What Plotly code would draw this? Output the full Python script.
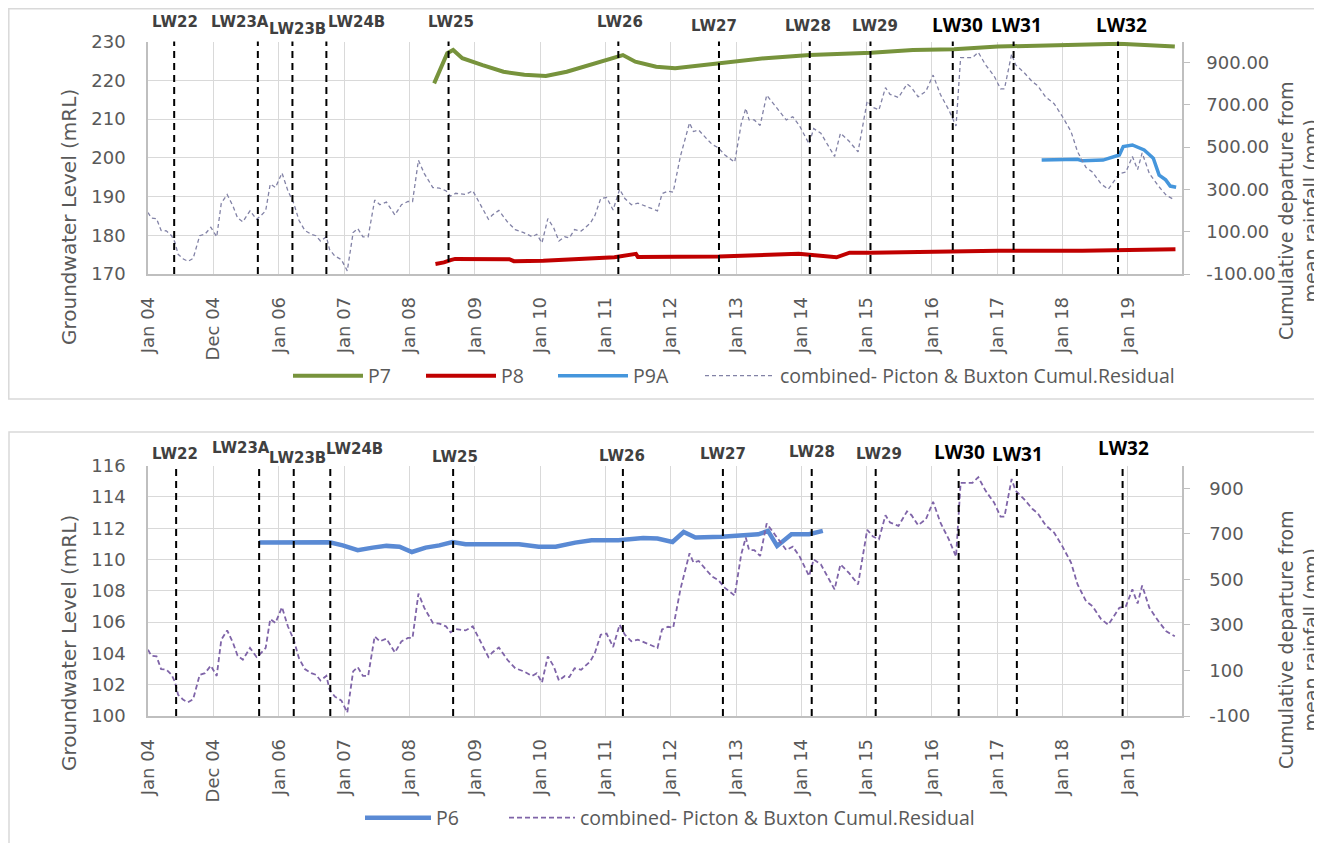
import plotly.graph_objects as go
from datetime import datetime

# the page adds an 8px body margin, so the figure is drawn 8px right/down of the window origin
OFF = 8
W, H = 1322 - OFF, 843 - OFF

# ---------------- data (decimal years / values) ----------------
tick_labels = ["Jan 04", "Dec 04", "Jan 06", "Jan 07", "Jan 08", "Jan 09", "Jan 10", "Jan 11",
               "Jan 12", "Jan 13", "Jan 14", "Jan 15", "Jan 16", "Jan 17", "Jan 18", "Jan 19"]
tick_years = [2004 + i for i in range(16)]

lw_names = ["LW22", "LW23A", "LW23B", "LW24B", "LW25", "LW26", "LW27", "LW28", "LW29", "LW30", "LW31", "LW32"]
lw_dates_top = [2004.40, 2005.68, 2006.21, 2006.73, 2008.60, 2011.20, 2012.74, 2014.13, 2015.06, 2016.32, 2017.25, 2018.85]
lw_dates_bottom = [2004.43, 2005.70, 2006.23, 2006.79, 2008.67, 2011.27, 2012.80, 2014.16, 2015.14, 2016.41, 2017.30, 2018.92]

rain_t = [2004.00, 2004.05, 2004.13, 2004.20, 2004.28, 2004.36, 2004.41, 2004.46, 2004.54, 2004.61,
          2004.69, 2004.79, 2004.87, 2004.96, 2005.05, 2005.12, 2005.21, 2005.30, 2005.37, 2005.45,
          2005.56, 2005.66, 2005.72, 2005.80, 2005.87, 2005.95, 2006.05, 2006.14, 2006.23, 2006.31,
          2006.40, 2006.50, 2006.57, 2006.64, 2006.73, 2006.78, 2006.86, 2006.96, 2007.05, 2007.14,
          2007.21, 2007.29, 2007.37, 2007.47, 2007.55, 2007.65, 2007.78, 2007.88, 2007.98, 2008.05,
          2008.14, 2008.23, 2008.36, 2008.46, 2008.56, 2008.63, 2008.71, 2008.86, 2008.97, 2009.09,
          2009.21, 2009.27, 2009.37, 2009.50, 2009.62, 2009.75, 2009.88, 2009.95, 2010.03, 2010.12,
          2010.21, 2010.29, 2010.38, 2010.45, 2010.53, 2010.63, 2010.77, 2010.84, 2010.93, 2011.02,
          2011.12, 2011.22, 2011.30, 2011.40, 2011.50, 2011.80, 2011.87, 2011.96, 2012.04, 2012.15,
          2012.29, 2012.35, 2012.43, 2012.56, 2012.64, 2012.73, 2012.83, 2012.98, 2013.08, 2013.15,
          2013.20, 2013.28, 2013.37, 2013.47, 2013.54, 2013.67, 2013.77, 2013.87, 2013.97, 2014.12,
          2014.19, 2014.30, 2014.40, 2014.51, 2014.60, 2014.73, 2014.87, 2015.01, 2015.10, 2015.19,
          2015.29, 2015.36, 2015.49, 2015.62, 2015.69, 2015.79, 2015.91, 2016.02, 2016.13, 2016.26,
          2016.37, 2016.44, 2016.62, 2016.71, 2016.82, 2016.95, 2017.05, 2017.11, 2017.22, 2017.28,
          2017.41, 2017.54, 2017.62, 2017.74, 2017.87, 2018.00, 2018.13, 2018.23, 2018.36, 2018.46,
          2018.59, 2018.70, 2018.77, 2018.87, 2018.97, 2019.07, 2019.15, 2019.22, 2019.33, 2019.47,
          2019.59, 2019.72]
rain_v = [191, 165, 162, 106, 104, 81, 51, -7, -29, -40,
          -26, 81, 88, 121, 76, 235, 276, 221, 165, 147,
          199, 159, 174, 199, 326, 309, 378, 294, 235, 154,
          106, 88, 81, 56, 76, 15, -15, -32, -85, 96,
          115, 76, 76, 250, 228, 240, 179, 228, 243, 243,
          438, 375, 309, 306, 294, 268, 282, 276, 294, 228,
          159, 179, 201, 147, 110, 96, 76, 88, 47, 162,
          118, 56, 76, 71, 110, 103, 140, 176, 257, 262,
          203, 301, 257, 228, 235, 199, 280, 292, 287, 456,
          615, 574, 581, 537, 512, 497, 463, 429, 610, 684,
          629, 629, 603, 746, 718, 669, 629, 644, 603, 515,
          588, 566, 515, 456, 566, 529, 478, 718, 688, 676,
          782, 750, 735, 799, 782, 738, 765, 841, 750, 676,
          600, 924, 924, 949, 890, 838, 776, 776, 941, 890,
          853, 809, 791, 738, 706, 644, 574, 478, 404, 382,
          326, 301, 331, 375, 382, 456, 394, 473, 375, 316,
          272, 250]

p7_t = [2008.38, 2008.53, 2008.58, 2008.67, 2008.81, 2009.12, 2009.44, 2009.76, 2010.09, 2010.41,
        2010.75, 2011.01, 2011.27, 2011.46, 2011.78, 2012.07, 2012.74, 2013.45, 2014.13, 2015.07,
        2015.71, 2016.34, 2017.01, 2017.97, 2018.87, 2019.72]
p7_v = [219.2, 225.5, 227.0, 227.8, 225.7, 223.9, 222.2, 221.4, 221.1, 222.2,
        223.9, 225.2, 226.5, 224.8, 223.5, 223.1, 224.4, 225.7, 226.5, 227.1,
        227.8, 228.0, 228.7, 229.1, 229.4, 228.7]

p8_t = [2008.40, 2008.53, 2008.63, 2008.70, 2009.53, 2009.60, 2010.05, 2010.69, 2011.14, 2011.47,
        2011.50, 2012.74, 2013.96, 2014.54, 2014.74, 2015.07, 2016.37, 2017.01, 2018.30, 2019.73]
p8_v = [172.6, 173.0, 173.6, 173.9, 173.8, 173.3, 173.4, 174.0, 174.3, 175.2,
        174.4, 174.5, 175.2, 174.3, 175.5, 175.5, 175.8, 176.0, 176.0, 176.4]

p9a_t = [2017.68, 2018.23, 2018.30, 2018.62, 2018.87, 2018.93, 2019.07, 2019.25, 2019.39, 2019.48,
         2019.58, 2019.65, 2019.74]
p9a_v = [199.4, 199.6, 199.2, 199.4, 200.7, 202.9, 203.3, 202.0, 199.9, 195.5,
         194.3, 192.7, 192.4]

p6_t = [2005.70, 2006.78, 2006.98, 2007.21, 2007.44, 2007.65, 2007.85, 2008.04, 2008.25, 2008.46,
        2008.66, 2008.86, 2009.17, 2009.68, 2009.98, 2010.24, 2010.54, 2010.79, 2011.20, 2011.58,
        2011.80, 2012.03, 2012.20, 2012.38, 2012.78, 2013.14, 2013.34, 2013.49, 2013.63, 2013.85,
        2014.12, 2014.33]
p6_v = [111.08, 111.10, 110.90, 110.60, 110.76, 110.87, 110.82, 110.48, 110.76, 110.90,
        111.12, 110.97, 110.97, 110.97, 110.82, 110.82, 111.08, 111.23, 111.23, 111.38,
        111.34, 111.12, 111.76, 111.40, 111.46, 111.55, 111.61, 111.83, 110.87, 111.61,
        111.61, 111.83]

right_ticks = [-100, 100, 300, 500, 700, 900]

# ---------------- styling (positions in window pixels) ----------------
lbl_shift_top = [1, -18, 5, 30, 2, 2, -5, -2, 5, 5, 3, 3]
lbl_y_top = [22, 22, 29, 22, 22, 22, 26, 26, 26, 25, 25, 25]
lbl_shift_bot = [-1, -18, 4, 24, 2, -1, 0, 0, 3, 1, 1, 1]
lbl_y_bot = [454, 448, 458, 449, 457, 456, 454, 452, 454, 452, 454, 448]


def dy(v):
    y = int(v)
    a = datetime(y, 1, 1)
    b = datetime(y + 1, 1, 1)
    return a + (b - a) * (v - y)


def px(x):
    return (x - OFF) / W


def py(y):
    return 1 - (y - OFF) / H


GRID = "#d9d9d9"
AXL = "#bfbfbf"
TXT = "#595959"
TICKFONT = dict(family="DejaVu Sans", size=18, color=TXT)

fig = go.Figure()

# top panel
fig.add_trace(go.Scatter(x=[dy(t) for t in p7_t], y=p7_v, mode="lines", name="P7",
                         line=dict(color="#77933C", width=4), xaxis="x", yaxis="y",
                         legend="legend", legendwidth=48))
fig.add_trace(go.Scatter(x=[dy(t) for t in p8_t], y=p8_v, mode="lines", name="P8",
                         line=dict(color="#C00000", width=4), xaxis="x", yaxis="y",
                         legend="legend", legendwidth=47))
fig.add_trace(go.Scatter(x=[dy(t) for t in p9a_t], y=p9a_v, mode="lines", name="P9A",
                         line=dict(color="#4596DC", width=3.5), xaxis="x", yaxis="y",
                         legend="legend", legendwidth=62))
fig.add_trace(go.Scatter(x=[dy(t) for t in rain_t], y=rain_v, mode="lines",
                         name="combined- Picton & Buxton Cumul.Residual",
                         line=dict(color="#8282a6", width=1.3, dash="4px,3px"), xaxis="x", yaxis="y2",
                         legend="legend"))

# bottom panel
fig.add_trace(go.Scatter(x=[dy(t) for t in p6_t], y=p6_v, mode="lines", name="P6",
                         line=dict(color="#5A8AD4", width=4.5), xaxis="x2", yaxis="y3",
                         legend="legend2", legendwidth=63))
fig.add_trace(go.Scatter(x=[dy(t) for t in rain_t], y=rain_v, mode="lines",
                         name="combined- Picton & Buxton Cumul.Residual",
                         line=dict(color="#7F64A8", width=1.8, dash="5px,3px"), xaxis="x2", yaxis="y4",
                         legend="legend2"))

xcommon = dict(type="date", range=[dy(2004.0), dy(2019.83)],
               tickvals=[dy(y) for y in tick_years], ticktext=tick_labels, tickangle=-90,
               tickfont=TICKFONT, showgrid=True, gridcolor=GRID, gridwidth=1.3,
               showline=True, linecolor=AXL, linewidth=1.5, ticks="", zeroline=False,
               ticklabelstandoff=14, automargin=False)
ycommon = dict(showgrid=True, gridcolor=GRID, gridwidth=1.3, showline=True, linecolor=AXL,
               linewidth=1.5, ticks="", tickfont=TICKFONT, zeroline=False, ticklabelstandoff=17,
               automargin=False)
rcommon = dict(showgrid=False, showline=True, linecolor=AXL, linewidth=1.5, ticks="outside",
               ticklen=6, tickcolor=AXL, tickfont=TICKFONT, zeroline=False, side="right",
               range=[-100, 1000], tickvals=right_ticks, automargin=False)

LEGFONT = dict(family="Open Sans", size=19.5, color=TXT)

fig.update_layout(
    width=W, height=H, autosize=False,
    margin=dict(l=0, r=0, t=0, b=0, pad=0),
    paper_bgcolor="white", plot_bgcolor="white",
    xaxis=dict(domain=[px(148), px(1182)], anchor="y", **xcommon),
    yaxis=dict(domain=[py(274), py(41.5)], anchor="x", range=[170, 230], dtick=10, **ycommon),
    yaxis2=dict(overlaying="y", anchor="x", ticktext=[f"{v:.2f}" for v in right_ticks],
                ticklabelstandoff=13, **rcommon),
    xaxis2=dict(domain=[px(148), px(1182)], anchor="y3", **xcommon),
    yaxis3=dict(domain=[py(716), py(465.6)], anchor="x2", range=[100, 116], dtick=2, **ycommon),
    yaxis4=dict(overlaying="y3", anchor="x2", ticktext=[str(v) for v in right_ticks],
                ticklabelstandoff=16, **rcommon),
    legend=dict(orientation="h", x=px(288), xanchor="left", y=py(376), yanchor="middle",
                itemwidth=70, font=LEGFONT, bgcolor="rgba(0,0,0,0)"),
    legend2=dict(orientation="h", x=px(360), xanchor="left", y=py(818), yanchor="middle",
                 itemwidth=66, font=LEGFONT, bgcolor="rgba(0,0,0,0)"),
    showlegend=True,
)

shapes = []
annotations = []
# chart area frames
shapes.append(dict(type="rect", xref="paper", yref="paper", x0=px(8.8), x1=px(1340), y0=py(399), y1=py(8.8),
                   line=dict(color=GRID, width=1.5), layer="below"))
shapes.append(dict(type="rect", xref="paper", yref="paper", x0=px(9), x1=px(1340), y0=py(860), y1=py(432),
                   line=dict(color=GRID, width=1.5), layer="below"))

for i, name in enumerate(lw_names):
    for dates, xr, yr, shifts, ys in ((lw_dates_top, "x", "y domain", lbl_shift_top, lbl_y_top),
                                      (lw_dates_bottom, "x2", "y3 domain", lbl_shift_bot, lbl_y_bot)):
        d = dy(dates[i])
        shapes.append(dict(type="line", xref=xr, yref=yr, x0=d, x1=d, y0=0, y1=1,
                           line=dict(color="black", width=2, dash="7px,5px")))
        big = name in ("LW30", "LW31", "LW32")
        font = (dict(family="Open Sans", size=19, color="black", weight="bold") if big
                else dict(family="DejaVu Sans", size=15, color="#404040", weight="bold"))
        annotations.append(dict(x=d, xref=xr, y=py(ys[i]), yref="paper", text=name, showarrow=False,
                                xshift=shifts[i], font=font, xanchor="center", yanchor="middle"))

# axis titles
for cy in (217, 643):
    annotations.append(dict(x=px(69), y=py(cy), xref="paper", yref="paper", text="Groundwater Level (mRL)",
                            textangle=-90, showarrow=False, xanchor="center", yanchor="middle",
                            font=dict(family="DejaVu Sans", size=20, color=TXT)))
for cy in (211, 640):
    annotations.append(dict(x=px(1298), y=py(cy), xref="paper", yref="paper",
                            text="Cumulative departure from<br>mean rainfall (mm)",
                            textangle=-90, showarrow=False, xanchor="center", yanchor="middle",
                            font=dict(family="DejaVu Sans", size=19, color=TXT)))

fig.update_layout(shapes=shapes, annotations=annotations)

fig.write_html("out.html")
